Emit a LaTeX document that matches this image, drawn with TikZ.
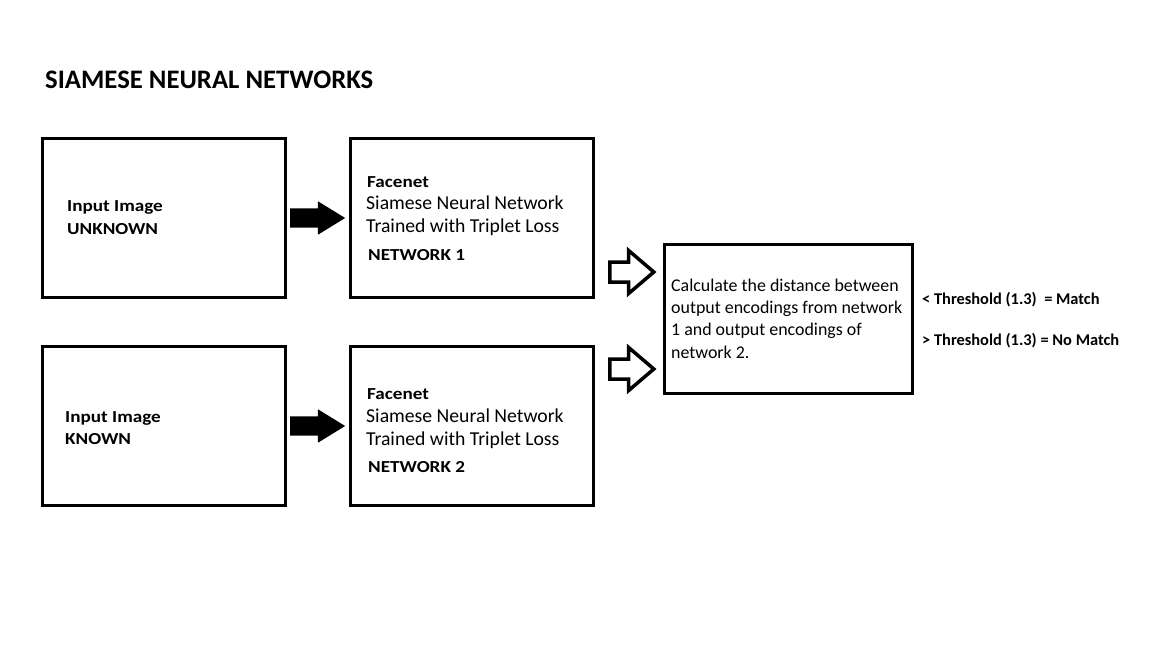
\documentclass[tikz,border=0pt]{standalone}
\usepackage{fontspec}
\setmainfont{Carlito}
\newfontfamily\widefont[FakeStretch=1.14]{Carlito}
\usetikzlibrary{positioning,shapes.arrows}
\tikzset{
  netbox/.style={draw, line width=3pt, minimum width=243pt, minimum height=159pt, inner sep=0pt},
  boldlbl/.style={anchor=base west, inner sep=0pt, align=left, font=\widefont\bfseries\fontsize{16.8}{23}\selectfont},
  plainlbl/.style={anchor=base west, inner sep=0pt, align=left, font=\fontsize{19.7}{22.5}\selectfont},
  solidarrow/.style={single arrow, fill=black, inner xsep=0pt, inner ysep=9.5pt, minimum height=55pt,
    minimum width=33pt, single arrow head extend=7pt, single arrow tip angle=63},
  hollowarrow/.style={single arrow, draw, fill=white, line width=3.5pt, inner xsep=0pt, inner ysep=8.25pt,
    minimum height=44pt, minimum width=39.5pt, single arrow head extend=11.5pt, single arrow tip angle=81}
}
\begin{document}
\begin{tikzpicture}[x=1pt,y=-1pt]
  \useasboundingbox[fill=white] (0,0) rectangle (1152,648);
  \node[anchor=base west, inner sep=0pt, font=\bfseries\fontsize{26.7}{32}\selectfont] (title) at (45,88) {SIAMESE NEURAL NETWORKS};
  % boxes
  \node[netbox] (unknown) at (164,218) {};
  \node[netbox, right=62pt of unknown] (net1) {};
  \node[netbox, below=46pt of unknown] (known) {};
  \node[netbox, right=62pt of known] (net2) {};
  \node[netbox, minimum width=248pt, minimum height=149pt] (dist) at (788,319) {};
  % texts (base = last line)
  \node[boldlbl] (unknowntxt) at (67,234) {Input Image\\UNKNOWN};
  \node[boldlbl, font=\widefont\bfseries\fontsize{16.8}{22}\selectfont] (knowntxt) at (65,444) {Input Image\\KNOWN};
  \node[boldlbl] (facenet1) at (367,187) {Facenet};
  \node[plainlbl] (siamese1) at (366,232) {Siamese Neural Network\\Trained with Triplet Loss};
  \node[boldlbl] (network1) at (368,260) {NETWORK 1};
  \node[boldlbl] (facenet2) at (367,399) {Facenet};
  \node[plainlbl] (siamese2) at (366,445) {Siamese Neural Network\\Trained with Triplet Loss};
  \node[boldlbl] (network2) at (368,472) {NETWORK 2};
  \node[anchor=base west, inner sep=0pt, align=left, font=\fontsize{17.9}{22.3}\selectfont] (disttxt) at (671,358)
    {Calculate the distance between\\output encodings from network\\1 and output encodings of\\network 2.};
  \node[anchor=base west, inner sep=0pt, font=\bfseries\fontsize{16.4}{18}\selectfont] (match) at (922,304) {< Threshold (1.3)\ \ = Match};
  \node[anchor=base west, inner sep=0pt, font=\bfseries\fontsize{16.4}{18}\selectfont] (nomatch) at (922,345) {> Threshold (1.3) = No Match};
  % arrows
  \node[solidarrow, anchor=tail] (arrow1) at ([xshift=3pt]unknown.east) {};
  \node[solidarrow, anchor=tail] (arrow2) at ([xshift=3pt]known.east) {};
  \node[hollowarrow, anchor=tip] (arrow3) at ([xshift=-6pt,yshift=47pt]dist.west) {};
  \node[hollowarrow, anchor=tip] (arrow4) at ([xshift=-6pt,yshift=-50pt]dist.west) {};
\end{tikzpicture}
\end{document}
